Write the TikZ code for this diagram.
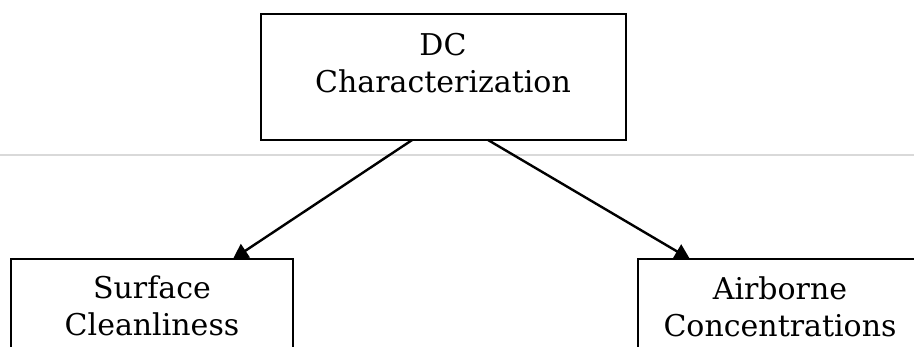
\documentclass[tikz,border=0pt]{standalone}
\usepackage{fontspec}
\setmainfont{DejaVu Serif}
\usetikzlibrary{arrows.meta,calc}
\tikzset{
  boxnode/.style={draw=black, line width=2pt, inner sep=0pt, outer sep=0pt, fill=none},
  labeltext/.style={align=center, inner sep=0pt, anchor=north, font=\fontsize{30}{37}\selectfont},
  arrowline/.style={line width=2.4pt, -{Triangle[length=15pt,width=16pt]}},
  rule/.style={draw=black!15, line width=1.8pt}
}
\begin{document}
\begin{tikzpicture}[x=1pt,y=-1pt]
\useasboundingbox (0,0) rectangle (914,346);
\clip (0,0) rectangle (914,346);
\draw[rule] (0,155) -- (914,155);
\node[boxnode, minimum width=365pt, minimum height=126pt] (topbox) at (443.5,77) {};
\node[labeltext] (toptext) at (443,33) {DC\\Characterization};
\node[boxnode, minimum width=282pt, minimum height=100pt] (leftbox) at (152,309) {};
\node[labeltext] (lefttext) at (152,276) {Surface\\Cleanliness};
\node[boxnode, minimum width=282pt, minimum height=100pt] (rightbox) at (779,309) {};
\node[labeltext] (righttext) at (780,277) {Airborne\\Concentrations};
\draw[arrowline] ($(topbox.south west)!0.414!(topbox.south east)$) -- ($(leftbox.north west)!0.787!(leftbox.north east)$);
\draw[arrowline] ($(topbox.south west)!0.622!(topbox.south east)$) -- ($(rightbox.north west)!0.184!(rightbox.north east)$);
\end{tikzpicture}
\end{document}
